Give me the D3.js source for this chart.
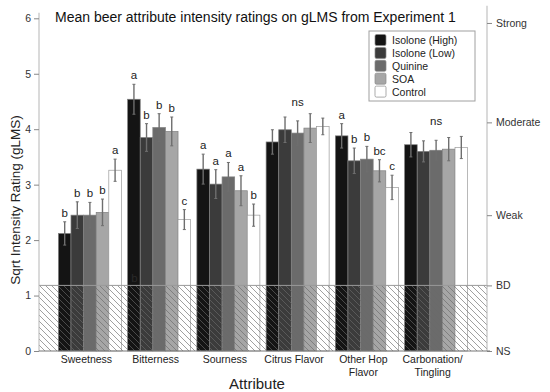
<!DOCTYPE html>
<html><head><meta charset="utf-8">
<script src="https://cdn.jsdelivr.net/npm/d3@7"></script>
<style>body{margin:0;background:#fff}svg{font-family:"Liberation Sans",Arial,sans-serif}</style>
</head><body><svg id="c" width="550" height="392"></svg>
<script>
const categories = ["Sweetness","Bitterness","Sourness","Citrus Flavor","Other Hop Flavor","Carbonation/ Tingling"];
const categoryLines = [["Sweetness"],["Bitterness"],["Sourness"],["Citrus Flavor"],["Other Hop","Flavor"],["Carbonation/","Tingling"]];
const seriesNames = ["Isolone (High)","Isolone (Low)","Quinine","SOA","Control"];
const seriesColors = ["#141414","#3b3b3b","#6b6b6b","#a6a6a6","#ffffff"];
const isoHigh = [2.12, 4.54, 3.28, 3.77, 3.88, 3.72];
const isoLow  = [2.45, 3.85, 3.01, 3.99, 3.43, 3.60];
const quinine = [2.45, 4.03, 3.14, 3.93, 3.46, 3.62];
const soa     = [2.50, 3.96, 2.89, 4.02, 3.25, 3.64];
const control = [3.26, 2.37, 2.45, 4.05, 2.95, 3.67];
const errHigh = [0.21, 0.27, 0.27, 0.22, 0.22, 0.22];
const errLow  = [0.24, 0.25, 0.26, 0.23, 0.23, 0.19];
const errQui  = [0.23, 0.25, 0.26, 0.22, 0.23, 0.18];
const errSoa  = [0.24, 0.26, 0.27, 0.26, 0.20, 0.21];
const errCtl  = [0.20, 0.18, 0.20, 0.15, 0.22, 0.20];
const letters = [
  ["b","b","b","b","a"],
  ["a","b","b","b","c"],
  ["a","a","a","a","b"],
  null,
  ["a","b","b","bc","c"],
  null
];
const groupLabels = [null,null,null,"ns",null,"ns"];
const leftTicks = [0,1,2,3,4,5,6];
const rightTickGLMS = [0, 1.4, 6, 17, 35];
const rightTickLabels = ["NS","BD","Weak","Moderate","Strong"];
const yMax = 6.1;

const values = [isoHigh, isoLow, quinine, soa, control];
const errs = [errHigh, errLow, errQui, errSoa, errCtl];

const svg = d3.select("#c");
const L = 39, R = 487, B = 351;
const y = d3.scaleLinear().domain([0, yMax]).range([B, B - yMax*55.45]);
const x0 = d3.scaleBand().domain(categories).range([L, R]).paddingInner(0.09).paddingOuter(0.28);
const x1 = d3.scaleBand().domain(seriesNames).range([0, x0.bandwidth()]);

const defs = svg.append("defs");
const pat = defs.append("pattern").attr("id","hatch").attr("patternUnits","userSpaceOnUse")
  .attr("width",6).attr("height",6);
pat.append("path").attr("d","M-1,-1 L7,7 M-1,5 L1,7 M5,-1 L7,1")
  .attr("stroke","#6a6a6a").attr("stroke-width",0.8);

const g = svg.append("g");
categories.forEach((c, i) => {
  seriesNames.forEach((s, j) => {
    g.append("rect")
      .attr("x", x0(c) + x1(s)).attr("width", x1.bandwidth())
      .attr("y", y(values[j][i])).attr("height", y(0) - y(values[j][i]))
      .attr("fill", seriesColors[j])
      .attr("stroke", j === 4 ? "#9a9a9a" : "#808080").attr("stroke-width", 0.7);
  });
});

const bd = Math.sqrt(rightTickGLMS[1]);
svg.append("rect").attr("x", L).attr("width", R - L)
  .attr("y", y(bd)).attr("height", y(0) - y(bd))
  .attr("fill", "url(#hatch)").attr("opacity", 0.8);
svg.append("line").attr("x1", L).attr("x2", R).attr("y1", y(bd)).attr("y2", y(bd))
  .attr("stroke", "#9a9a9a").attr("stroke-width", 1);

categories.forEach((c, i) => {
  seriesNames.forEach((s, j) => {
    const cx = x0(c) + x1(s) + x1.bandwidth()/2;
    const v = values[j][i], e = errs[j][i];
    g.append("line").attr("x1", cx).attr("x2", cx)
      .attr("y1", y(v - e)).attr("y2", y(v + e))
      .attr("stroke", "#6e6e6e").attr("stroke-width", 1.4);
    [v - e, v + e].forEach(t => g.append("line")
      .attr("x1", cx - 1.5).attr("x2", cx + 1.5).attr("y1", y(t)).attr("y2", y(t))
      .attr("stroke", "#6e6e6e").attr("stroke-width", 1));
    if (letters[i]) {
      svg.append("text").attr("x", cx).attr("y", y(v + e) - 5)
        .attr("text-anchor", "middle").attr("font-size", 11.5).attr("fill", "#222")
        .text(letters[i][j]);
    }
  });
  if (groupLabels[i]) {
    const top = d3.max(seriesNames, (s, j) => values[j][i] + errs[j][i]);
    svg.append("text").attr("x", x0(c) + x0.bandwidth()/2).attr("y", y(top) - 8)
      .attr("text-anchor", "middle").attr("font-size", 11.5).attr("fill", "#222")
      .text(groupLabels[i]);
  }
});
svg.append("text").attr("x", x0(categories[1]) + x1(seriesNames[0]) + x1.bandwidth()/2 + 0.5)
  .attr("y", y(1.2) - 2).attr("text-anchor","middle").attr("font-size", 11.5).attr("fill", "#2a2a2a").text("b");

const la = svg.append("g").attr("transform", `translate(${L},0)`)
  .call(d3.axisLeft(y).tickValues(leftTicks).tickFormat(d3.format("d")).tickSize(5).tickPadding(3));
la.select(".domain").attr("stroke", "#b5b5b5").attr("d", `M0,${y(yMax)}V${B}`);
la.selectAll(".tick line").attr("stroke", "#888");
la.selectAll("text").attr("font-size", 10.5).attr("fill", "#333").attr("font-family", "Liberation Sans, Arial, sans-serif");

const ra = svg.append("g").attr("transform", `translate(${R},0)`)
  .call(d3.axisRight(y).tickValues(rightTickGLMS.map(Math.sqrt)).tickFormat((d, k) => rightTickLabels[k]).tickSize(5).tickPadding(4));
ra.select(".domain").attr("stroke", "#b5b5b5").attr("d", `M0,${y(yMax) - 7}V${B}`);
ra.selectAll(".tick line").attr("stroke", "#888");
ra.selectAll("text").attr("font-size", 10.5).attr("fill", "#333").attr("font-family", "Liberation Sans, Arial, sans-serif");

svg.append("line").attr("x1", L).attr("x2", R + 3).attr("y1", B).attr("y2", B).attr("stroke", "#777").attr("stroke-width", 1);

categories.forEach((c, i) => {
  const t = svg.append("text").attr("x", x0(c) + x0.bandwidth()/2 - 3.5).attr("y", 363)
    .attr("text-anchor", "middle").attr("font-size", 10.5).attr("fill", "#222");
  categoryLines[i].forEach((ln, k) => t.append("tspan").attr("x", x0(c) + x0.bandwidth()/2 - 3.5).attr("dy", k ? 12.5 : 0).text(ln));
});

svg.append("text").attr("x", 257).attr("y", 389).attr("text-anchor", "middle")
  .attr("font-size", 15).attr("fill", "#222").text("Attribute");
svg.append("text").attr("transform", "translate(20,200) rotate(-90)").attr("text-anchor", "middle")
  .attr("font-size", 13.5).attr("fill", "#222").text("Sqrt Intensity Rating (gLMS)");

svg.append("text").attr("x", 55).attr("y", 22).attr("font-size", 14).attr("fill", "#111")
  .text("Mean beer attribute intensity ratings on gLMS from Experiment 1");

const lg = svg.append("g");
lg.append("rect").attr("x", 369).attr("y", 31).attr("width", 106).attr("height", 70)
  .attr("fill", "#fff").attr("stroke", "#a0a0a0").attr("stroke-width", 1);
seriesNames.forEach((s, j) => {
  const cy = 40 + j * 12.9;
  lg.append("rect").attr("x", 375).attr("y", cy - 5.5).attr("width", 11).attr("height", 11).attr("rx", 1.5)
    .attr("fill", seriesColors[j]).attr("stroke", "#888").attr("stroke-width", 0.7);
  lg.append("text").attr("x", 392).attr("y", cy + 4).attr("font-size", 10.5).attr("fill", "#222").text(s);
});
</script></body></html>
